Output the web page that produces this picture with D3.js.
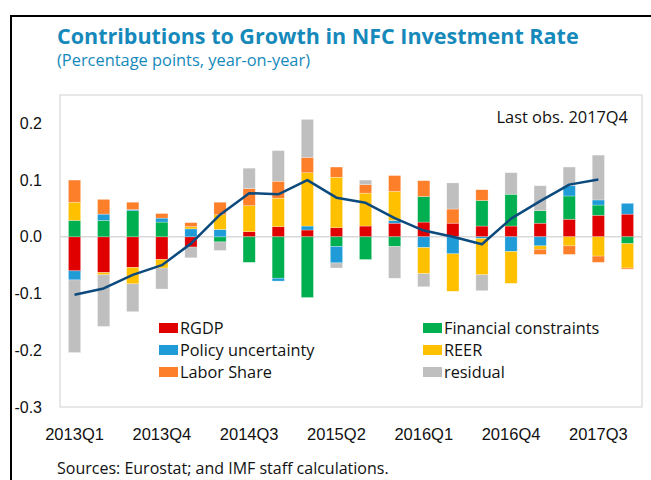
<!DOCTYPE html>
<html>
<head>
<meta charset="utf-8">
<script src="https://cdn.jsdelivr.net/npm/d3@7"></script>
<style>
  body { margin: 0; background: #fff; }
  svg { display: block; font-family: "Open Sans", "Noto Sans", sans-serif; }
</style>
</head>
<body>
<script>
const quarters = ["2013Q1", "2013Q2", "2013Q3", "2013Q4", "2014Q1", "2014Q2", "2014Q3", "2014Q4",
    "2015Q1", "2015Q2", "2015Q3", "2015Q4", "2016Q1", "2016Q2", "2016Q3", "2016Q4",
    "2017Q1", "2017Q2", "2017Q3", "2017Q4"];
const tickQuarters = ["2013Q1", "2013Q4", "2014Q3", "2015Q2", "2016Q1", "2016Q4", "2017Q3"];
const yTicks = [0.2, 0.1, 0.0, -0.1, -0.2, -0.3];

const rgdp = [-0.060, -0.063, -0.054, -0.040, -0.018, 0, 0.009, 0.018, 0.012, 0.016,
    0.019, 0.024, 0.026, 0.024, 0.019, 0.019, 0.024, 0.031, 0.038, 0.040];
const financial = [0.029, 0.029, 0.046, 0.026, 0, -0.009, -0.045, -0.073, -0.107, -0.017,
    -0.040, -0.017, 0.045, 0, 0.045, 0.056, 0.022, 0.041, 0.018, -0.012];
const policy = [-0.016, 0.011, 0.002, 0.007, 0.014, 0.013, 0, -0.005, 0.007, -0.029,
    0, 0.005, -0.019, -0.030, -0.003, -0.026, -0.016, 0.018, 0.009, 0.019];
const reer = [0.032, -0.004, -0.029, -0.015, 0.004, 0.026, 0.046, 0.050, 0.094, 0.089,
    0.058, 0.051, -0.046, -0.066, -0.064, -0.056, -0.006, -0.016, -0.034, -0.043];
const laborShare = [0.039, 0.026, 0.013, 0.008, 0.007, 0.022, 0.030, 0.030, 0.027, 0.018,
    0.015, 0.028, 0.028, 0.025, 0.019, 0, -0.009, -0.015, -0.011, -0.002];
const residual = [-0.128, -0.091, -0.049, -0.037, -0.019, -0.015, 0.036, 0.054, 0.067, -0.009,
    0.008, -0.056, -0.023, 0.046, -0.028, 0.038, 0.044, 0.033, 0.079, 0];
// investment rate growth, ends at 2017Q3
const total = [-0.102, -0.091, -0.067, -0.050, -0.012, 0.039, 0.077, 0.075, 0.100, 0.069,
    0.060, 0.033, 0.011, 0.000, -0.013, 0.032, 0.063, 0.092, 0.101];

const seriesNames = ["RGDP", "Financial constraints", "Policy uncertainty", "REER", "Labor Share", "residual"];
const seriesValues = [rgdp, financial, policy, reer, laborShare, residual];
const colors = ["#e00000", "#00b050", "#1f9bd8", "#ffc000", "#fd7f2a", "#bfbfbf"];

const width = 651, height = 480;
const plot = { left: 60, right: 642, top: 95, bottom: 407 };

const svg = d3.select("body").append("svg")
    .attr("width", width)
    .attr("height", height);

// outer frame
svg.append("path")
    .attr("d", `M11,480 V16 H651`)
    .attr("fill", "none")
    .attr("stroke", "#000")
    .attr("stroke-width", 2);

svg.append("text")
    .attr("x", 57).attr("y", 44)
    .attr("fill", "#1689bb")
    .style("font-size", "21.5px").style("font-weight", "bold")
    .text("Contributions to Growth in NFC Investment Rate");
svg.append("text")
    .attr("x", 57).attr("y", 66)
    .attr("fill", "#1689bb")
    .style("font-size", "16.4px")
    .text("(Percentage points, year-on-year)");

const x = d3.scaleBand()
    .domain(quarters)
    .range([plot.left, plot.right])
    .paddingInner(0.58)
    .paddingOuter(0.29);

const y = d3.scaleLinear()
    .domain([-0.3, 0.25])
    .range([plot.bottom, plot.top]);

svg.append("rect")
    .attr("x", plot.left).attr("y", plot.top)
    .attr("width", plot.right - plot.left).attr("height", plot.bottom - plot.top)
    .attr("fill", "none").attr("stroke", "#cfcfcf");

svg.append("line")
    .attr("x1", plot.left).attr("x2", plot.right)
    .attr("y1", y(0)).attr("y2", y(0))
    .attr("stroke", "#d9d9d9").attr("stroke-width", 1.5);

const table = quarters.map((q, i) => {
    const row = { q };
    seriesNames.forEach((n, k) => row[n] = seriesValues[k][i]);
    return row;
});

const stack = d3.stack()
    .keys(seriesNames)
    .offset(d3.stackOffsetDiverging)(table);

svg.append("g").selectAll("g")
    .data(stack)
    .join("g")
    .attr("fill", (d, i) => colors[i])
    .selectAll("rect")
    .data(d => d)
    .join("rect")
    .attr("x", d => x(d.data.q))
    .attr("width", x.bandwidth())
    .attr("y", d => y(Math.max(d[0], d[1])))
    .attr("height", d => Math.abs(y(d[0]) - y(d[1])))
    .attr("stroke", "#fff").attr("stroke-opacity", 0.45).attr("stroke-width", 0.6);

const line = d3.line()
    .x((d, i) => x(quarters[i]) + x.bandwidth() / 2)
    .y(d => y(d));

svg.append("path")
    .datum(total)
    .attr("d", line)
    .attr("fill", "none")
    .attr("stroke", "#0c4a7e")
    .attr("stroke-width", 2.5)
    .attr("stroke-linejoin", "round");

const yAxis = svg.append("g")
    .attr("transform", `translate(${plot.left},0)`)
    .call(d3.axisLeft(y).tickValues(yTicks).tickSize(0).tickPadding(18).tickFormat(d => d.toFixed(1)));
yAxis.select(".domain").remove();
yAxis.selectAll("text").style("font-size", "16px").attr("fill", "#111").style("font-family", "inherit");

const xAxis = svg.append("g")
    .attr("transform", `translate(0,${plot.bottom})`)
    .call(d3.axisBottom(x).tickValues(tickQuarters).tickSize(0).tickPadding(21));
xAxis.select(".domain").remove();
xAxis.selectAll("text").style("font-size", "16.5px").attr("fill", "#111").style("font-family", "inherit");

svg.append("text")
    .attr("x", 628).attr("y", 123)
    .attr("text-anchor", "end")
    .attr("fill", "#111")
    .style("font-size", "16.4px")
    .text("Last obs. 2017Q4");

// legend, two columns
const legend = svg.append("g");
seriesNames.forEach((name, i) => {
    const col = i % 2, row = Math.floor(i / 2);
    const lx = col === 0 ? 159 : 423;
    const ly = 323 + row * 22;
    legend.append("rect")
        .attr("x", lx).attr("y", ly)
        .attr("width", 19).attr("height", 10)
        .attr("fill", colors[i]);
    legend.append("text")
        .attr("x", lx + 21).attr("y", ly + 11)
        .attr("fill", "#111")
        .style("font-size", "16.3px")
        .text(name);
});

svg.append("text")
    .attr("x", 57).attr("y", 474)
    .attr("fill", "#111")
    .style("font-size", "16px")
    .text("Sources: Eurostat; and IMF staff calculations.");
</script>
</body>
</html>
